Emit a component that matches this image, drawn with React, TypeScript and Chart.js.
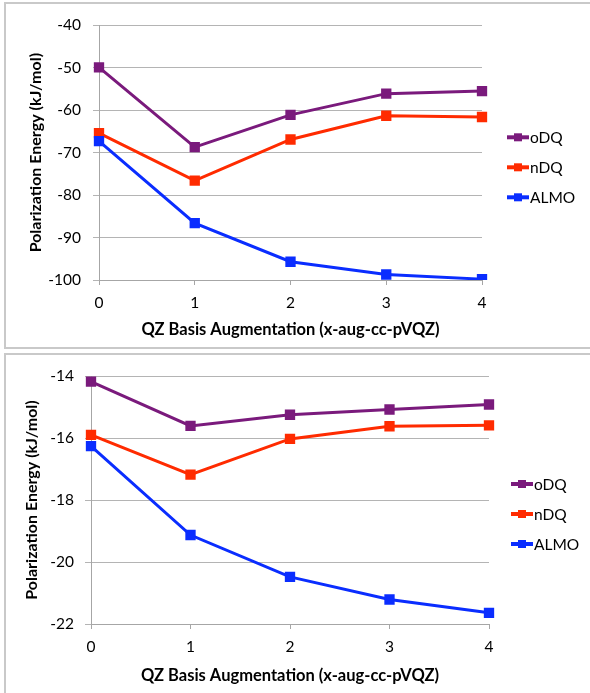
import React, { useEffect, useRef } from 'react';
import { Chart, registerables } from 'chart.js';

Chart.register(...registerables);

// ---------- data ----------
const xLabels = ['0', '1', '2', '3', '4'];
const seriesNames = ['oDQ', 'nDQ', 'ALMO'];
const seriesColors = ['#7A1A7C', '#FF2B00', '#0A2DFF'];

const topODQ = [-49.9, -68.7, -61.1, -56.1, -55.5];
const topNDQ = [-65.4, -76.6, -66.9, -61.3, -61.6];
const topALMO = [-67.3, -86.6, -95.7, -98.7, -99.8];
const topYMin = -100;
const topYMax = -40;
const topYStep = 10;

const botODQ = [-14.18, -15.61, -15.25, -15.08, -14.92];
const botNDQ = [-15.9, -17.18, -16.03, -15.62, -15.59];
const botALMO = [-16.26, -19.13, -20.48, -21.21, -21.64];
const botYMin = -22;
const botYMax = -14;
const botYStep = 2;

const xTitle = 'QZ Basis Augmentation (x-aug-cc-pVQZ)';
const yTitle = 'Polarization Energy (kJ/mol)';

// ---------- styling ----------
const FONT = 'Lato, "Open Sans", sans-serif';
const gridColor = '#b4b4b4';
const axisColor = '#a6a6a6';

type PanelLayout = {
  top: number;
  height: number;
  padTop: number;
  padRight: number;
  yAxisW: number;
  xAxisH: number;
  xTitlePadBottom: number;
  yTitlePadTop: number;
  yTickPad: number;
  legendDX: number;
  legendDY: number;
};

const sideLegendPlugin = {
  id: 'sideLegend',
  afterDraw(chart: any, _args: any, opts: any) {
    const { ctx, chartArea } = chart;
    const x0 = chartArea.right + opts.dx;
    const y0 = chartArea.top + opts.dy;
    ctx.save();
    chart.data.datasets.forEach((ds: any, i: number) => {
      const y = y0 + i * 30;
      ctx.strokeStyle = ds.borderColor;
      ctx.lineWidth = 4;
      ctx.beginPath();
      ctx.moveTo(x0, y);
      ctx.lineTo(x0 + 22, y);
      ctx.stroke();
      ctx.fillStyle = ds.borderColor;
      ctx.fillRect(x0 + 7, y - 4, 8, 8);
      ctx.fillStyle = '#000';
      ctx.font = '15.5px ' + FONT;
      ctx.textAlign = 'left';
      ctx.textBaseline = 'middle';
      ctx.fillText(ds.label, x0 + 23, y + 1);
    });
    ctx.restore();
  },
};

function ChartPanel(props: {
  series: number[][];
  yMin: number;
  yMax: number;
  yStep: number;
  L: PanelLayout;
}) {
  const ref = useRef<HTMLCanvasElement>(null);
  const { series, yMin, yMax, yStep, L } = props;
  const canvasW = 596;
  const canvasH = L.height - 4;

  useEffect(() => {
    if (!ref.current) return;
    const orders = [3, 2, 1];
    const chart = new Chart(ref.current, {
      type: 'line',
      data: {
        labels: xLabels,
        datasets: series.map((d, i) => ({
          label: seriesNames[i],
          data: d,
          borderColor: seriesColors[i],
          backgroundColor: seriesColors[i],
          borderWidth: 3,
          pointStyle: 'rect',
          pointRadius: 7.3,
          pointHoverRadius: 7.3,
          pointBorderWidth: 0,
          tension: 0,
          fill: false,
          order: orders[i],
        })),
      },
      options: {
        responsive: false,
        animation: false,
        devicePixelRatio: 1,
        layout: { padding: { left: 0, top: L.padTop, right: L.padRight, bottom: 0 } },
        plugins: {
          legend: { display: false },
          tooltip: { enabled: false },
          sideLegend: { dx: L.legendDX, dy: L.legendDY },
        } as any,
        scales: {
          x: {
            type: 'category',
            offset: false,
            grid: {
              display: true,
              drawOnChartArea: false,
              drawTicks: true,
              tickLength: 5,
              color: axisColor,
            },
            border: { display: true, color: axisColor, width: 1 },
            ticks: {
              font: { family: FONT, size: 15.5 },
              color: '#000',
              padding: 9,
              maxRotation: 0,
              autoSkip: false,
            },
            title: {
              display: true,
              text: xTitle,
              color: '#000',
              font: { family: FONT, size: 16.5, weight: 'bold' },
              padding: { top: 0, bottom: L.xTitlePadBottom },
            },
            afterFit: (s: any) => {
              s.height = L.xAxisH;
            },
          },
          y: {
            type: 'linear',
            min: yMin,
            max: yMax,
            ticks: {
              stepSize: yStep,
              font: { family: FONT, size: 15.5 },
              color: '#000',
              padding: L.yTickPad,
            },
            grid: { color: gridColor, tickLength: 6, lineWidth: 1 },
            border: { display: true, color: axisColor, width: 1 },
            title: {
              display: true,
              text: yTitle,
              color: '#000',
              font: { family: FONT, size: 16, weight: 'bold' },
              padding: { top: L.yTitlePadTop, bottom: 0 },
            },
            afterFit: (s: any) => {
              s.width = L.yAxisW;
            },
          },
        },
      } as any,
      plugins: [sideLegendPlugin],
    });
    return () => chart.destroy();
  }, []);

  return (
    <div
      style={{
        position: 'absolute',
        left: 4,
        top: L.top,
        width: 600,
        height: L.height,
        boxSizing: 'border-box',
        border: '2px solid #c9c9c9',
        background: '#fff',
      }}
    >
      <canvas
        ref={ref}
        width={canvasW}
        height={canvasH}
        style={{ position: 'absolute', left: 0, top: 0, width: canvasW, height: canvasH }}
      />
    </div>
  );
}

const topLayout: PanelLayout = {
  top: 2,
  height: 347,
  padTop: 19,
  padRight: 120,
  yAxisW: 93,
  xAxisH: 67,
  xTitlePadBottom: 7,
  yTitlePadTop: 20.5,
  yTickPad: 12,
  legendDX: 25,
  legendDY: 112,
};

const botLayout: PanelLayout = {
  top: 353,
  height: 345,
  padTop: 21,
  padRight: 113,
  yAxisW: 85,
  xAxisH: 72,
  xTitlePadBottom: 10,
  yTitlePadTop: 16,
  yTickPad: 11,
  legendDX: 22,
  legendDY: 108,
};

export default function App() {
  return (
    <div
      style={{
        position: 'absolute',
        left: 0,
        top: 0,
        width: 590,
        height: 693,
        overflow: 'hidden',
        background: '#fff',
      }}
    >
      <ChartPanel series={[topODQ, topNDQ, topALMO]} yMin={topYMin} yMax={topYMax} yStep={topYStep} L={topLayout} />
      <ChartPanel series={[botODQ, botNDQ, botALMO]} yMin={botYMin} yMax={botYMax} yStep={botYStep} L={botLayout} />
    </div>
  );
}
